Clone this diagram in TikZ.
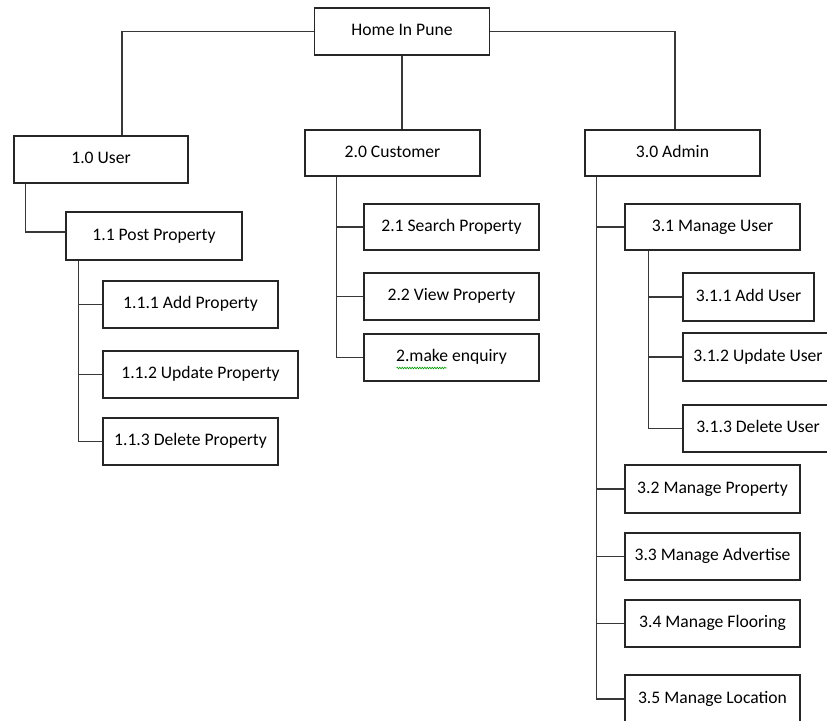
\documentclass[tikz,border=0pt]{standalone}
\usepackage{fontspec}
\setmainfont{Carlito}
\usetikzlibrary{decorations.pathmorphing}

\begin{document}
\begin{tikzpicture}[x=1pt, y=-1pt,
                    block/.style={draw=black!85, line width=1.2pt, fill=white,
                                  minimum width=175pt, minimum height=47pt,
                                  text height=13pt, text depth=5pt, inner sep=0pt,
                                  font=\fontsize{17.6}{20}\selectfont},
                    link/.style={draw=black!78, line width=1.4pt},
                    spell/.style={draw=green!60!black, line width=0.6pt,
                                  decorate, decoration={snake, amplitude=0.8pt, segment length=2.5pt}}]
    \clip (0,0) rectangle (827,720);
    % top
    \node[block] (root) at (402,31.5) {Home In Pune};
    % first level
    \node[block, minimum width=174pt] (user) at (101,159.5) {1.0 User};
    \node[block, minimum height=46pt] (cust) at (392.5,153) {2.0 Customer};
    \node[block, minimum height=46pt] (admin) at (672.5,153) {3.0 Admin};
    % user
    \node[block, minimum width=176pt, minimum height=48pt] (post) at (154,236) {1.1 Post Property};
    \node[block] (addp) at (190.5,304.5) {1.1.1 Add Property};
    \node[block, minimum width=195pt] (updp) at (200.5,374.5) {1.1.2 Update Property};
    \node[block] (delp) at (190.5,441.5) {1.1.3 Delete Property};
    % customer
    \node[block, minimum height=46pt] (srch) at (451.5,227) {2.1 Search Property};
    \node[block] (view) at (451.5,296.5) {2.2 View Property};
    \node[block] (enq) at (451.5,357.5) {2.make enquiry};
    % admin
    \node[block, minimum height=46pt] (mngu) at (712.5,227) {3.1 Manage User};
    \node[block, minimum width=131pt, minimum height=48pt] (addu) at (748.5,297) {3.1.1 Add User};
    \node[block, minimum width=150pt, minimum height=48pt] (updu) at (758,357) {3.1.2 Update User};
    \node[block, minimum width=150pt] (delu) at (758,428.5) {3.1.3 Delete User};
    \node[block, minimum height=48pt] (mngp) at (712.5,489) {3.2 Manage Property};
    \node[block] (mnga) at (712.5,556.5) {3.3 Manage Advertise};
    \node[block] (mngf) at (712.5,623.5) {3.4 Manage Flooring};
    \node[block, minimum height=48pt] (mngl) at (712.5,699) {3.5 Manage Location};

    % connectors
    \draw[link] (root.west) -| ([xshift=21pt]user.north);
    \draw[link] (root.south) -- (root.south |- cust.north);
    \draw[link] (root.east) -| ([xshift=2.5pt]admin.north);
    \draw[link] ([xshift=12pt]user.south west) |- ([yshift=4pt]post.west);
    \foreach \c in {addp,updp,delp}
        \draw[link] ([xshift=13pt]post.south west) |- (\c.west);
    \foreach \c in {srch,view,enq}
        \draw[link] ([xshift=32pt]cust.south west) |- (\c.west);
    \foreach \c in {mngu,mngp,mnga,mngf,mngl}
        \draw[link] ([xshift=12pt]admin.south west) |- (\c.west);
    \foreach \c in {addu,updu,delu}
        \draw[link] ([xshift=24pt]mngu.south west) |- (\c.west);

    % spell-check mark
    \draw[spell] ([xshift=-55pt,yshift=-10.5pt]enq.center) -- ++(50,0);
\end{tikzpicture}
\end{document}
